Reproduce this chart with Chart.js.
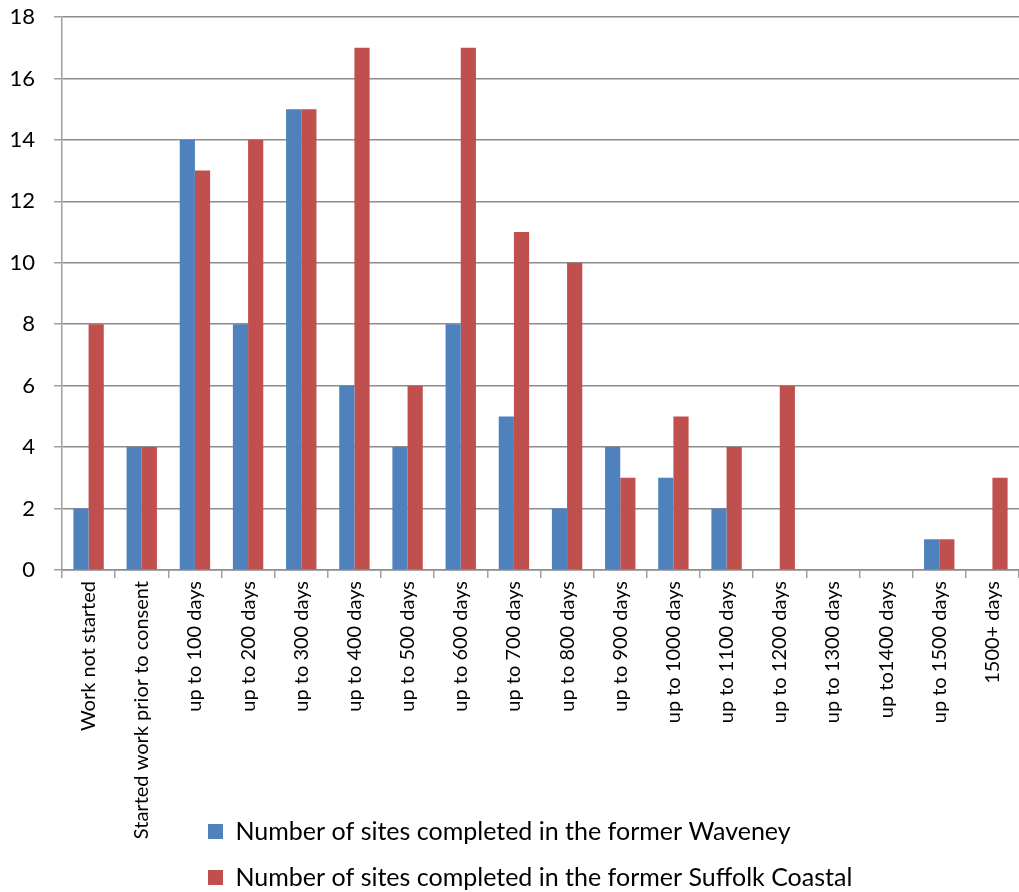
<!DOCTYPE html>
<html>
<head>
<meta charset="utf-8">
<script src="https://cdn.jsdelivr.net/npm/chart.js@4/dist/chart.umd.min.js"></script>
<style>
    html, body { margin: 0; padding: 0; background: #fff; overflow: hidden; height: 892px; }
    #wrap { width: 1019px; height: 900px; }
</style>
</head>
<body>
<div id="wrap"><canvas id="durationChart"></canvas></div>
<script>
const categories = [
    'Work not started', 'Started work prior to consent', 'up to 100 days', 'up to 200 days',
    'up to 300 days', 'up to 400 days', 'up to 500 days', 'up to 600 days', 'up to 700 days',
    'up to 800 days', 'up to 900 days', 'up to 1000 days', 'up to 1100 days', 'up to 1200 days',
    'up to 1300 days', 'up to1400 days', 'up to 1500 days', '1500+ days'
];
const waveney = [2, 4, 14, 8, 15, 6, 4, 8, 5, 2, 4, 3, 2, 0, 0, 0, 1, 0];
const suffolkCoastal = [8, 4, 13, 14, 15, 17, 6, 17, 11, 10, 3, 5, 4, 6, 0, 0, 1, 3];

Chart.defaults.font.family = 'Lato, "Open Sans", sans-serif';
Chart.defaults.color = '#000';

// lines up the two legend rows on a common left edge, like the original
const legendShift = {
    id: 'legendShift',
    afterLayout(chart) {
        chart.legend.left = 187;
    }
};

const ctx = document.getElementById('durationChart').getContext('2d');
new Chart(ctx, {
    type: 'bar',
    data: {
        labels: categories,
        datasets: [
            {
                label: 'Number of sites completed in the former Waveney',
                data: waveney,
                backgroundColor: '#4F81BD',
                categoryPercentage: 2 / 3.5,
                barPercentage: 1
            },
            {
                label: 'Number of sites completed in the former Suffolk Coastal',
                data: suffolkCoastal,
                backgroundColor: '#C0504D',
                categoryPercentage: 2 / 3.5,
                barPercentage: 1
            }
        ]
    },
    options: {
        responsive: true,
        maintainAspectRatio: false,
        animation: false,
        layout: { padding: 0 },
        scales: {
            x: {
                grid: {
                    offset: true,
                    drawOnChartArea: false,
                    tickLength: 8,
                    tickColor: '#a0a0a0',
                    lineWidth: 1.5
                },
                border: { color: '#8c8c8c', width: 1.5 },
                ticks: {
                    minRotation: 90,
                    maxRotation: 90,
                    padding: 3,
                    font: { size: 20 }
                },
                afterFit(scale) {
                    scale.height = 228;
                    scale.paddingLeft = 0;
                    scale.paddingRight = 0;
                    // long labels run down beside the legend, so don't clip them
                    scale._computeLabelArea = () => undefined;
                }
            },
            y: {
                min: 0,
                max: 18,
                ticks: {
                    stepSize: 2,
                    padding: 19,
                    font: { size: 22 }
                },
                grid: {
                    color: '#8c8c8c',
                    lineWidth: 1.5,
                    tickLength: 8,
                    tickColor: '#a0a0a0'
                },
                border: { color: '#a0a0a0', width: 1.5 },
                afterFit(scale) {
                    scale.width = 62;
                    scale.paddingTop = 17;
                    scale.paddingBottom = 0;
                }
            }
        },
        plugins: {
            legend: {
                position: 'bottom',
                align: 'start',
                labels: {
                    boxWidth: 15,
                    boxHeight: 15,
                    padding: 21,
                    font: { size: 25 }
                }
            },
            tooltip: { enabled: false }
        }
    },
    plugins: [legendShift]
});
</script>
</body>
</html>
